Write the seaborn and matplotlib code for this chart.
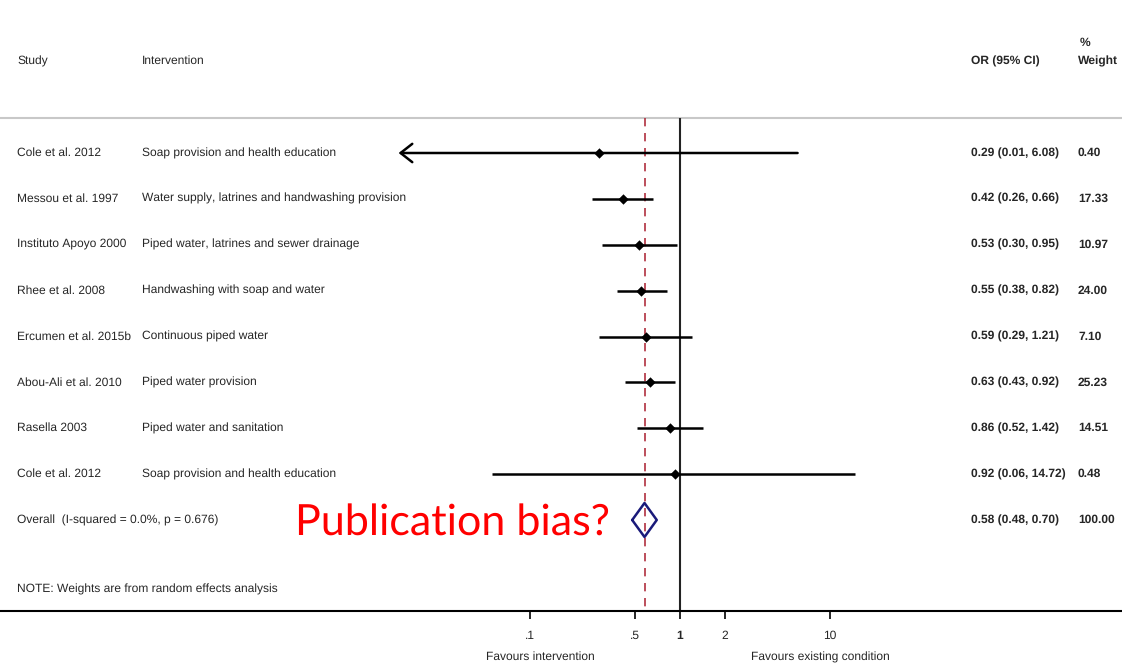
import matplotlib
matplotlib.use("Agg")
import matplotlib.pyplot as plt
import seaborn as sns
import numpy as np
import pandas as pd

# ---- data ----
studies = ["Cole et al. 2012", "Messou et al. 1997", "Instituto Apoyo 2000", "Rhee et al. 2008",
           "Ercumen et al. 2015b", "Abou-Ali et al. 2010", "Rasella 2003", "Cole et al. 2012"]
interventions = ["Soap provision and health education",
                 "Water supply, latrines and handwashing provision",
                 "Piped water, latrines and sewer drainage",
                 "Handwashing with soap and water",
                 "Continuous piped water",
                 "Piped water provision",
                 "Piped water and sanitation",
                 "Soap provision and health education"]
odds_ratio = [0.29, 0.42, 0.53, 0.55, 0.59, 0.63, 0.86, 0.92]
ci_low = [0.0133, 0.26, 0.30, 0.38, 0.29, 0.43, 0.52, 0.056]
ci_high = [6.08, 0.66, 0.95, 0.82, 1.21, 0.92, 1.42, 14.72]
weights = [0.40, 17.33, 10.97, 24.00, 7.10, 25.23, 14.51, 0.48]
overall_or, overall_low, overall_high, overall_weight = 0.58, 0.48, 0.70, 100.00
overall_label = "Overall  (I-squared = 0.0%, p = 0.676)"
note_text = "NOTE: Weights are from random effects analysis"
tick_values = [0.1, 0.5, 1, 2, 10]
tick_labels = [".1", ".5", "1", "2", "10"]

df = pd.DataFrame({"study": studies, "intervention": interventions, "OR": odds_ratio,
                   "lo": ci_low, "hi": ci_high, "w": weights, "row": np.arange(len(studies))})

sns.set_theme(style="white")
plt.rcParams["font.family"] = ["Liberation Sans", "DejaVu Sans"]
plt.rcParams["text.hinting"] = "no_hinting"
plt.rcParams["text.hinting_factor"] = 1

W, H = 1122, 666
fig = plt.figure(figsize=(W / 100, H / 100), dpi=100)
ax = fig.add_axes([0, 55 / H, 1, 611 / H])

# pixel geometry helpers (layout only)
row0_px, row_step = 153, 45.875
def ypix(p):
    return (p - row0_px) / row_step
def xfrac(p):
    return p / W

ax.set_xscale("log")
ax.set_xlim(10 ** (-680 / 150), 10 ** ((W - 680) / 150))
ax.set_ylim(ypix(611), ypix(0))

for s in ["top", "left", "right"]:
    ax.spines[s].set_visible(False)
ax.spines["bottom"].set_color("black")
ax.spines["bottom"].set_linewidth(1.5)
ax.grid(False)
ax.set_yticks([])
ax.set_xticks(tick_values)
ax.set_xticklabels(tick_labels)
ax.xaxis.set_minor_locator(matplotlib.ticker.NullLocator())
fs = 8.7
ax.tick_params(axis="x", direction="out", length=6, width=1.2, color="black",
               labelsize=fs, pad=8, bottom=True)
for lbl in ax.get_xticklabels():
    if lbl.get_text() == "1":
        lbl.set_fontweight("bold")

# top separator line
ax.axhline(ypix(117.5), color="#c8c8c8", lw=1.5, zorder=1)

# reference lines
ax.vlines(1, ypix(117.5), ypix(611), color="#222222", lw=1.5, zorder=2)
ax.vlines(overall_or, ypix(117.5), ypix(611), color="#b03040", lw=1.2,
          linestyles=(0, (5, 4)), zorder=2)

# CI lines
for _, r in df.iterrows():
    if r["row"] == 0:
        ax.annotate("", xy=(r["lo"], r["row"]), xytext=(r["hi"], r["row"]),
                    arrowprops=dict(arrowstyle="->,head_length=0.7,head_width=0.55",
                                    color="black", lw=1.8, shrinkA=0, shrinkB=0), zorder=3)
    else:
        ax.hlines(r["row"], r["lo"], r["hi"], color="black", lw=1.8, zorder=3)

sns.scatterplot(data=df, x="OR", y="row", marker="D", color="black", s=28,
                edgecolor="black", linewidth=0, zorder=4, ax=ax, legend=False)
ax.set_xlabel("")
ax.set_ylabel("")

# overall diamond
orow = len(studies)
half = 17 / row_step
dx = [overall_low, overall_or, overall_high, overall_or, overall_low]
dy = [orow, orow - half, orow, orow + half, orow]
ax.plot(dx, dy, color="#1a1a7a", lw=1.8, zorder=5)

# text columns
tr = ax.get_yaxis_transform()
ax.text(xfrac(17), ypix(61), "Study", transform=tr, fontsize=fs, va="center", ha="left")
ax.text(xfrac(142), ypix(61), "Intervention", transform=tr, fontsize=fs, va="center", ha="left")
ax.text(xfrac(971), ypix(61), "OR (95% CI)", transform=tr, fontsize=fs, va="center", ha="left",
        fontweight="bold")
ax.text(xfrac(1078), ypix(61), "Weight", transform=tr, fontsize=fs, va="center", ha="left",
        fontweight="bold")
ax.text(xfrac(1080), ypix(43), "%", transform=tr, fontsize=fs, va="center", ha="left",
        fontweight="bold")

for _, r in df.iterrows():
    y = r["row"]
    ax.text(xfrac(17), y, r["study"], transform=tr, fontsize=fs, va="center", ha="left")
    ax.text(xfrac(142), y, r["intervention"], transform=tr, fontsize=fs, va="center", ha="left")
    ax.text(xfrac(971), y, f"{r['OR']:.2f} ({r['lo']:.2f}, {r['hi']:.2f})", transform=tr,
            fontsize=fs, va="center", ha="left", fontweight="bold")
    ax.text(xfrac(1078), y, f"{r['w']:.2f}", transform=tr, fontsize=fs, va="center", ha="left",
            fontweight="bold")

ax.text(xfrac(17), orow, overall_label, transform=tr, fontsize=fs, va="center", ha="left")
ax.text(xfrac(971), orow, f"{overall_or:.2f} ({overall_low:.2f}, {overall_high:.2f})",
        transform=tr, fontsize=fs, va="center", ha="left", fontweight="bold")
ax.text(xfrac(1078), orow, f"{overall_weight:.2f}", transform=tr, fontsize=fs, va="center",
        ha="left", fontweight="bold")
ax.text(xfrac(17), ypix(589), note_text, transform=tr, fontsize=fs, va="center", ha="left")

# favours labels
ax.text(xfrac(540), ypix(657), "Favours intervention", transform=tr, fontsize=fs,
        va="center", ha="center", clip_on=False)
ax.text(xfrac(820), ypix(657), "Favours existing condition", transform=tr, fontsize=fs,
        va="center", ha="center", clip_on=False)

# annotation
ax.text(xfrac(295), ypix(536), "Publication bias?", transform=tr, fontsize=31,
        color="#ff0000", va="baseline", ha="left", family=["Lato", "DejaVu Sans"])

fig.savefig("out.png", dpi=100, facecolor="white")
